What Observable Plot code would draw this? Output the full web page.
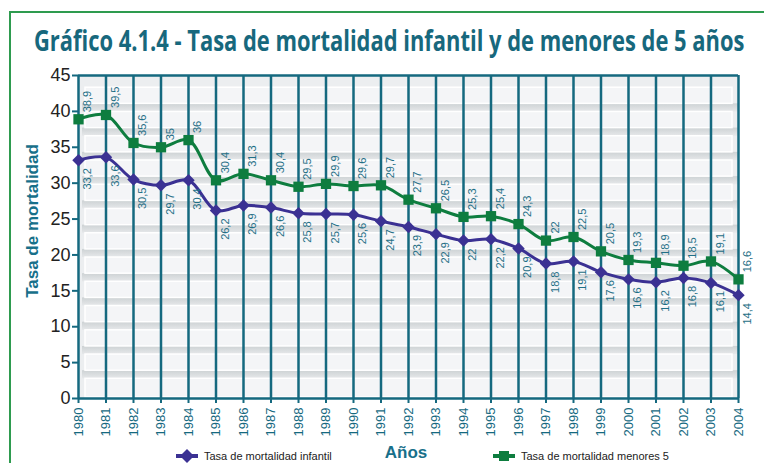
<!DOCTYPE html>
<html><head><meta charset="utf-8">
<script src="https://cdn.jsdelivr.net/npm/d3@7"></script>
<script src="https://cdn.jsdelivr.net/npm/@observablehq/plot@0.6"></script>
<style>
body{margin:0;background:#fff;font-family:"Liberation Sans",Arial,sans-serif;}
#wrap{position:relative;width:764px;height:463px;overflow:hidden;background:#fff;}
#frame{position:absolute;left:9px;top:11px;width:800px;height:500px;border-left:2px solid #2e9b4f;border-top:2px solid #2e9b4f;}
#title{position:absolute;left:0;top:0;}
#chart{position:absolute;left:0;top:0;}
#ytitle{position:absolute;left:33px;top:221px;transform:translate(-50%,-50%) rotate(-90deg);font-weight:bold;font-size:17px;color:#18708a;white-space:nowrap;}
#xtitle{position:absolute;left:406px;top:443px;transform:translateX(-50%);font-weight:bold;font-size:17px;color:#18708a;}
.leg{position:absolute;top:449px;height:14px;font-size:11px;line-height:14px;color:#222;display:flex;align-items:center;white-space:nowrap;}
.leg svg{margin-right:6px;}
g[aria-label="y-axis tick label"]{fill:#222;}
</style>
</head><body>
<div id="wrap">
  <div id="frame"></div>
  <svg id="title" width="764" height="62"><text id="ttext" x="0" y="0" font-family="Open Sans" font-weight="700" font-size="28" fill="#17687d">Gráfico 4.1.4 - Tasa de mortalidad infantil y de menores de 5 años</text></svg>
  <div id="chart"></div>
  <div id="ytitle">Tasa de mortalidad</div>
  <div id="xtitle">Años</div>
  <div class="leg" style="left:176px"><svg width="22" height="14"><line x1="0" y1="7" x2="22" y2="7" stroke="#3b3193" stroke-width="4"/><path d="M11,0L18,7L11,14L4,7Z" fill="#3b3193"/></svg>Tasa de mortalidad infantil</div>
  <div class="leg" style="left:493px"><svg width="22" height="14"><line x1="0" y1="7" x2="22" y2="7" stroke="#0e7d3f" stroke-width="4"/><rect x="6" y="2" width="10" height="10" fill="#0e7d3f"/></svg>Tasa de mortalidad menores 5</div>
</div>
<script>
const years = [1980,1981,1982,1983,1984,1985,1986,1987,1988,1989,1990,1991,1992,1993,1994,1995,1996,1997,1998,1999,2000,2001,2002,2003,2004];
const infantil = [33.2,33.6,30.5,29.7,30.4,26.2,26.9,26.6,25.8,25.7,25.6,24.7,23.9,22.9,22,22.2,20.9,18.8,19.1,17.6,16.6,16.2,16.8,16.1,14.4];
const menores5 = [38.9,39.5,35.6,35,36,30.4,31.3,30.4,29.5,29.9,29.6,29.7,27.7,26.5,25.3,25.4,24.3,22,22.5,20.5,19.3,18.9,18.5,19.1,16.6];
const yTicks = [0,5,10,15,20,25,30,35,40,45];
// decorative background stripes (value units)
const bandTops = d3.range(13).map(k => 43.3 - k * 3.38);

// fit the title into its width (condensed look)
const tt = document.getElementById("ttext");
const tw = tt.getComputedTextLength();
tt.setAttribute("transform", `translate(34,51) scale(${711 / tw},1)`);

const rows = years.map((y, i) => ({year: y, inf: infantil[i], men: menores5[i]}));
const fmt = v => String(v).replace(".", ",");
const teal = "#15697f", labTeal = "#1f6f86", green = "#0e7d3f", purple = "#3b3193";
const xa = () => years[0], xb = () => years[years.length - 1];

const plot = Plot.plot({
  width: 764, height: 463,
  marginLeft: 78, marginRight: 26, marginTop: 75, marginBottom: 65,
  x: {domain: [years[0], years[years.length - 1]], label: null},
  y: {domain: [yTicks[0], yTicks[yTicks.length - 1]], label: null},
  style: {fontFamily: "Liberation Sans, Arial, sans-serif", background: "transparent", overflow: "visible"},
  marks: [
    Plot.frame({fill: "#eceef0", stroke: null}),
    Plot.rect(bandTops.filter(d => d - 2.25 > 0.5), {x1: xa, x2: xb, y1: d => Math.max(d - 3.38, 0), y2: d => d - 2.25, fill: "url(#bandGrad)", insetLeft: 4}),
    Plot.rect(bandTops, {x1: xa, x2: xb, y1: d => d < 4 ? 0.15 : d - 2.25, y2: d => d, fill: "#f4f5f7", stroke: "#ffffff", strokeWidth: 1.5, insetLeft: 7, insetRight: 6}),
    Plot.ruleX(years, {stroke: teal, strokeWidth: 2.5}),
    Plot.ruleY([yTicks[yTicks.length - 1]], {stroke: teal, strokeWidth: 2.5}),
    Plot.ruleY([0], {stroke: teal, strokeWidth: 2.5}),
    Plot.axisX(years, {tickRotate: -90, tickFormat: d => String(d), stroke: teal, fill: teal, strokeWidth: 2, fontSize: 13, tickSize: 5, tickPadding: 4, label: null}),
    Plot.axisY(yTicks, {stroke: teal, fill: "#222", strokeWidth: 2, fontSize: 18, tickSize: 6, tickPadding: 2, label: null}),
    Plot.line(rows, {x: "year", y: "men", stroke: green, strokeWidth: 3, curve: "catmull-rom"}),
    Plot.line(rows, {x: "year", y: "inf", stroke: purple, strokeWidth: 3, curve: "catmull-rom"}),
    Plot.dot(rows, {x: "year", y: "men", symbol: "square", r: 5.8, fill: green}),
    Plot.dot(rows, {x: "year", y: "inf", symbol: "diamond2", r: 5.6, fill: purple, stroke: null}),
    Plot.text(rows, {x: "year", y: "men", text: d => fmt(d.men), rotate: -90, textAnchor: "start", lineAnchor: "middle", dx: 9, dy: -7, fill: labTeal, fontSize: 11}),
    Plot.text(rows, {x: "year", y: "inf", text: d => fmt(d.inf), rotate: -90, textAnchor: "end", lineAnchor: "middle", dx: 9, dy: 8, fill: labTeal, fontSize: 11})
  ]
});
plot.insertAdjacentHTML("afterbegin", '<defs><linearGradient id="bandGrad" x1="0" y1="0" x2="0" y2="1"><stop offset="0" stop-color="#cdd2d4"/><stop offset="1" stop-color="#e6e8ea"/></linearGradient></defs>');
document.getElementById("chart").appendChild(plot);
</script>
</body></html>
